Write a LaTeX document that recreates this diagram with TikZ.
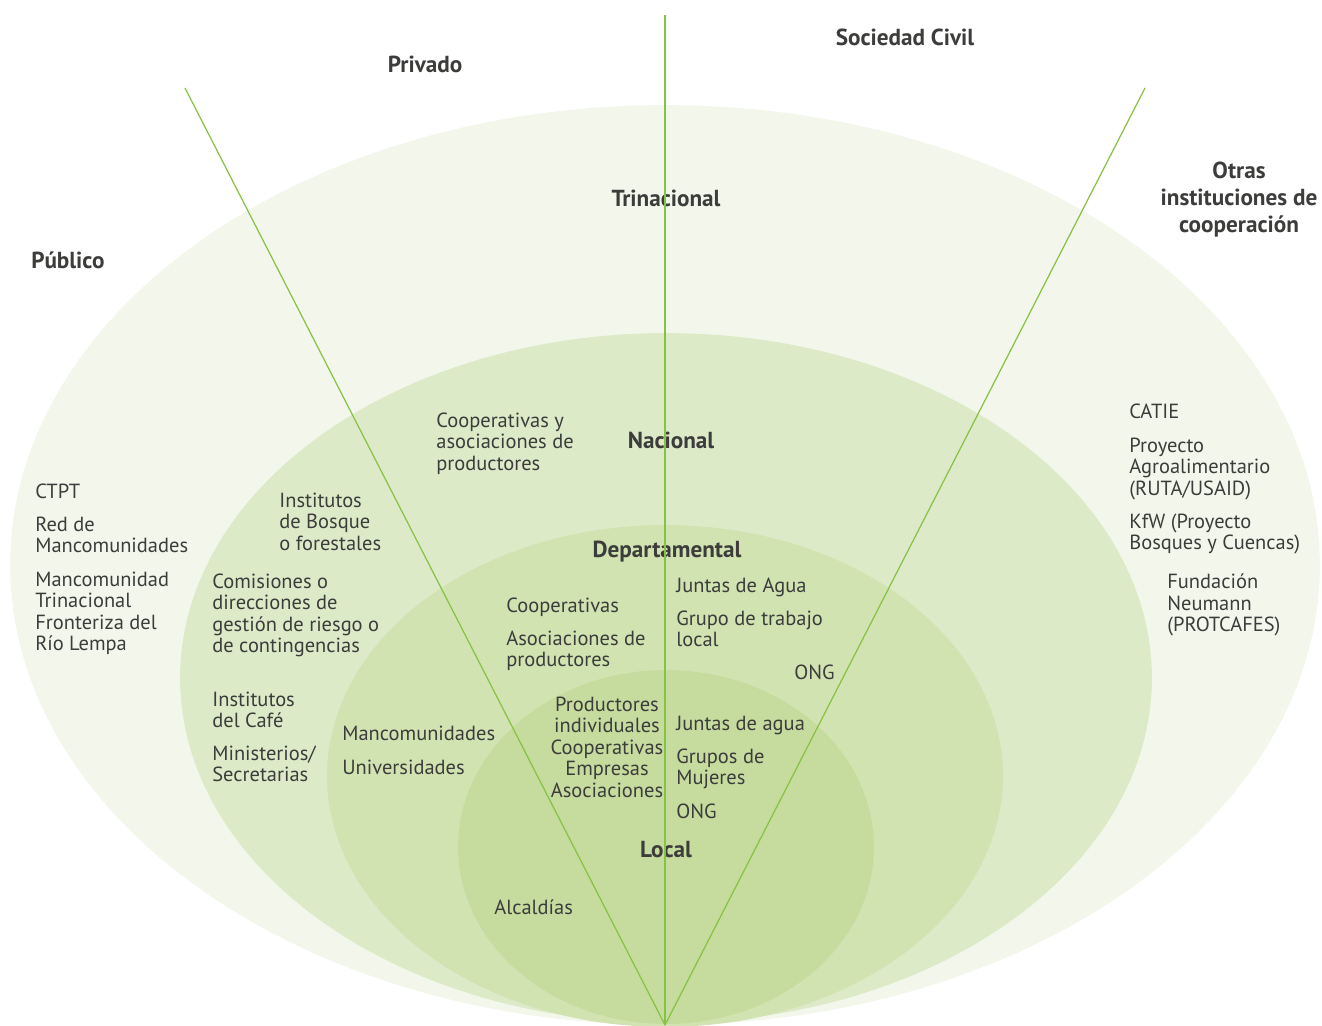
\documentclass[tikz,border=0pt]{standalone}
\usepackage{fontspec}
\setmainfont{PT Sans}

\definecolor{ink}{HTML}{3C3C3B}
\definecolor{leaf}{HTML}{86C244}
\definecolor{ringA}{HTML}{F3F7EB}
\definecolor{ringB}{HTML}{DDEAC8}
\definecolor{ringC}{HTML}{D2E3B2}
\definecolor{ringD}{HTML}{C6DC9F}

\begin{document}
\begin{tikzpicture}[x=0.02cm, y=-0.02cm,
		divider/.style={draw=leaf, line width=0.7pt},
		lbl/.style={font=\fontsize{11.65}{12.2}\selectfont, text=ink, inner sep=0pt, anchor=north west, align=left},
		ctr/.style={lbl, anchor=north, align=center},
		head/.style={font=\fontsize{13.2}{15.3}\selectfont\bfseries, text=ink, inner sep=0pt, anchor=base, align=center}]
		\useasboundingbox (0, 0) rectangle (1322, 1025);
		\clip (0, 0) rectangle (1322, 1025);

		\fill[ringA] (665, 565) ellipse [x radius=13.1cm, y radius=9.2cm];
		\fill[ringB] (666, 678) ellipse [x radius=9.72cm, y radius=6.9cm];
		\fill[ringC] (665, 776) ellipse [x radius=6.76cm, y radius=5.02cm];
		\fill[ringD] (666, 847) ellipse [x radius=4.16cm, y radius=3.54cm];

		\node[head] (privado) at (425, 72) {Privado};
		\node[head] (civil) at (905, 45) {Sociedad Civil};
		\node[head] (trinacional) at (666, 206) {Trinacional};
		\node[head] (publico) at (68, 268) {Público};
		\node[head, anchor=north] (otras) at (1239, 162) {Otras\\instituciones de\\cooperación};
		\node[head] (nacional) at (671, 448) {Nacional};
		\node[head] (departamental) at (667, 557) {Departamental};
		\node[head] (local) at (666, 857) {Local};

		\node[lbl] (ctpt) at (35, 483.5) {CTPT};
		\node[lbl] (redman) at (35, 516.5) {Red de\\Mancomunidades};
		\node[lbl] (mantri) at (35, 571.5) {Mancomunidad\\Trinacional\\Fronteriza del\\Río Lempa};
		\node[lbl] (bosque) at (279, 492.5) {Institutos\\de Bosque\\o forestales};
		\node[lbl] (coopasoc) at (436, 412.5) {Cooperativas y\\asociaciones de\\productores};
		\node[lbl] (comisiones) at (212, 573.5) {Comisiones o\\direcciones de\\gestión de riesgo o\\de contingencias};
		\node[lbl] (cafe) at (212, 691.5) {Institutos\\del Café};
		\node[lbl] (ministerios) at (212, 745.5) {Ministerios/\\Secretarias};
		\node[lbl] (mancom) at (342, 725.5) {Mancomunidades};
		\node[lbl] (univ) at (342, 759.5) {Universidades};
		\node[lbl] (coop) at (506, 597.5) {Cooperativas};
		\node[lbl] (asoc) at (506, 630.5) {Asociaciones de\\productores};
		\node[ctr] (productores) at (607, 696.5) {Productores\\individuales\\Cooperativas\\Empresas\\Asociaciones};
		\node[lbl] (juntasdep) at (676, 577.5) {Juntas de Agua};
		\node[lbl] (grupo) at (676, 610.5) {Grupo de trabajo\\local};
		\node[lbl] (ongdep) at (794, 664.5) {ONG};
		\node[lbl] (juntasloc) at (676, 715.5) {Juntas de agua};
		\node[lbl] (mujeres) at (676, 748.5) {Grupos de\\Mujeres};
		\node[lbl] (ongloc) at (676, 803.5) {ONG};
		\node[lbl] (alcaldias) at (494, 899.5) {Alcaldías};
		\node[lbl] (catie) at (1129, 403.5) {CATIE};
		\node[lbl] (ruta) at (1129, 437.5) {Proyecto\\Agroalimentario\\(RUTA/USAID)};
		\node[lbl] (kfw) at (1129, 513.5) {KfW (Proyecto\\Bosques y Cuencas)};
		\node[lbl] (neumann) at (1167, 573.5) {Fundación\\Neumann\\(PROTCAFES)};

		\coordinate (apex) at (665, 1025);
		\coordinate (topmid) at (665, 15);
		\coordinate (topleft) at (185, 88);
		\coordinate (topright) at (1145, 88);
		\draw[divider] (apex) -- (topmid);
		\draw[divider] (apex) -- (topleft);
		\draw[divider] (apex) -- (topright);
	\end{tikzpicture}
\end{document}
